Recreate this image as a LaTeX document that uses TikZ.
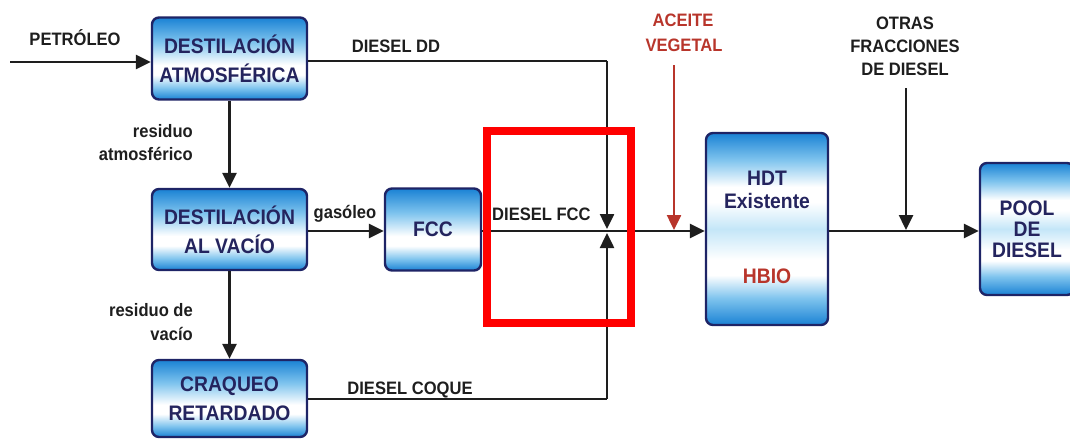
\documentclass[tikz,border=0pt]{standalone}
\usepackage{fontspec}
\setmainfont[FakeStretch=0.92]{Liberation Sans}
\usetikzlibrary{arrows.meta,calc}
\definecolor{bluedeep}{HTML}{1A82D4}
\definecolor{bluelight}{HTML}{7FC4EE}
\definecolor{bluepale}{HTML}{C4E6F8}
\definecolor{navy}{HTML}{1E2466}
\definecolor{boxtext}{HTML}{24245E}
\definecolor{oilred}{HTML}{B8352B}
\definecolor{ink}{HTML}{1E1E1E}
\pgfdeclareverticalshading{boxshade}{100bp}{color(0bp)=(bluedeep); color(25bp)=(bluedeep); color(32bp)=(bluelight); color(40bp)=(white); color(46bp)=(white); color(60bp)=(bluelight); color(75bp)=(bluedeep); color(100bp)=(bluedeep)}
\pgfdeclareverticalshading{tallshade}{100bp}{color(0bp)=(bluedeep); color(25bp)=(bluedeep); color(32bp)=(bluelight); color(38bp)=(white); color(42bp)=(white); color(50bp)=(bluepale); color(57bp)=(white); color(61bp)=(white); color(68bp)=(bluelight); color(75bp)=(bluedeep); color(100bp)=(bluedeep)}
\tikzset{
  procbox/.style={draw=navy, line width=2.4pt, rounded corners=7pt, shading=boxshade,
    text=boxtext, align=center, inner sep=0pt, font=\bfseries\fontsize{21}{29}\selectfont},
  tallbox/.style={procbox, shading=tallshade},
  lbl/.style={inner sep=0pt, text=ink, font=\bfseries\fontsize{18}{20}\selectfont},
  flow/.style={draw=ink, line width=2.5pt, -{Triangle[length=15pt,width=14pt]}},
  flowline/.style={draw=ink, line width=2.5pt},
  oilflow/.style={draw=oilred, line width=2.5pt, -{Triangle[length=15pt,width=14pt]}},
  inbox/.style={inner sep=0pt, font=\bfseries\fontsize{21}{24}\selectfont}
}
\begin{document}
\begin{tikzpicture}[x=1pt,y=-1pt]
\useasboundingbox (0,0) rectangle (1070,439);
% boxes
\node[procbox, minimum width=155, minimum height=82] (da) at (229.5,58.5) {DESTILACIÓN\\ATMOSFÉRICA};
\node[procbox, minimum width=155, minimum height=81] (dv) at (229.5,229.5) {DESTILACIÓN\\AL VACÍO};
\node[procbox, minimum width=155, minimum height=77] (cr) at (229.5,398.5) {CRAQUEO\\RETARDADO};
\node[procbox, minimum width=96, minimum height=82] (fcc) at (433,229.5) {FCC};
\node[tallbox, minimum width=122, minimum height=192] (hdt) at (767,229) {};
\node[inbox, text=boxtext, anchor=base] (hdtA) at (767,185) {HDT};
\node[inbox, text=boxtext, anchor=base] (hdtB) at (767,208) {Existente};
\node[inbox, text=oilred, anchor=base] (hdtC) at (767,283) {HBIO};
\node[tallbox, minimum width=94, minimum height=132, font=\bfseries\fontsize{21}{21}\selectfont] (pool) at (1027,229) {POOL\\DE\\DIESEL};
% coordinates
\coordinate (p0) at (10,62);
\coordinate (jdd) at (607,61);
\coordinate (J) at (607,231);
\coordinate (jcq) at (607,399);
\coordinate (a0) at (674,65);
\coordinate (o0) at (906,88);
% connectors
\draw[flow] (p0) -- (p0 -| da.west);
\draw[flowline] (da.east |- jdd) -- (jdd);
\draw[flow, shorten >=2pt] (jdd) -- (J);
\draw[flowline] (cr.east |- jcq) -- (jcq);
\draw[flow, shorten >=2pt] (jcq) -- (J);
\draw[flow] (da.south) -- (dv.north);
\draw[flow] (dv.south) -- (cr.north);
\draw[flow] (dv.east |- J) -- (fcc.west |- J);
\draw[flow] (fcc.east |- J) -- (hdt.west |- J);
\draw[oilflow, shorten >=1pt] (a0) -- (a0 |- J);
\draw[flow] (hdt.east |- J) -- (pool.west |- J);
\draw[flow, shorten >=1pt] (o0) -- (o0 |- J);
% labels
\node[lbl, anchor=base] (lp) at (75,45) {PETRÓLEO};
\node[lbl, anchor=base] (ldd) at (396,52) {DIESEL DD};
\node[lbl, anchor=base east] (lra1) at (193,137) {residuo};
\node[lbl, anchor=base east] (lra2) at (193,160) {atmosférico};
\node[lbl, anchor=base] (lg) at (345,218) {gasóleo};
\node[lbl, anchor=base west] (lfcc) at (492,220) {DIESEL FCC};
\node[lbl, anchor=base east] (lrv1) at (193,316) {residuo de};
\node[lbl, anchor=base east] (lrv2) at (193,340) {vacío};
\node[lbl, anchor=base] (lcq) at (410,394) {DIESEL COQUE};
\node[lbl, text=oilred, anchor=base] (lav1) at (683,27) {ACEITE};
\node[lbl, text=oilred, anchor=base] (lav2) at (684,51) {VEGETAL};
\node[lbl, anchor=base] (lo1) at (905,29) {OTRAS};
\node[lbl, anchor=base] (lo2) at (905,52) {FRACCIONES};
\node[lbl, anchor=base] (lo3) at (905,75) {DE DIESEL};
% highlight
\draw[red, line width=8pt] (487,131) rectangle (631,323);
\end{tikzpicture}
\end{document}
